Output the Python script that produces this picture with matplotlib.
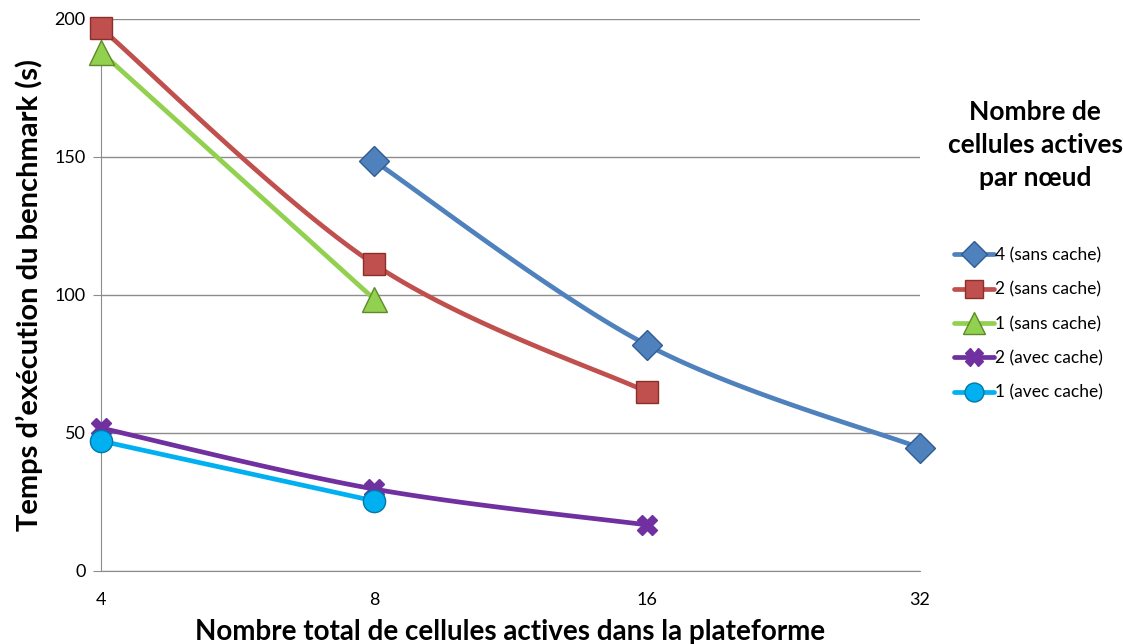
import numpy as np
import matplotlib.pyplot as plt
from matplotlib.lines import Line2D

plt.rcParams['font.family'] = ['Lato', 'DejaVu Sans']

# Nombre total de cellules actives (axe x, échelle log2)
cells_total = [4, 8, 16, 32]

# Temps d'exécution (s) par configuration
x_4_sans = [8, 16, 32]
t_4_sans = [148.6, 81.9, 44.6]
x_2_sans = [4, 8, 16]
t_2_sans = [196.7, 111.2, 64.9]
x_1_sans = [4, 8]
t_1_sans = [188.0, 98.6]
x_2_avec = [4, 8, 16]
t_2_avec = [51.8, 29.7, 16.7]
x_1_avec = [4, 8]
t_1_avec = [47.1, 25.4]

labels = ["4 (sans cache)", "2 (sans cache)", "1 (sans cache)",
          "2 (avec cache)", "1 (avec cache)"]


def smooth(xs, ys, n=40):
    # Courbe lissée type Catmull-Rom (comme les courbes lissées d'Excel)
    px = np.log2(np.asarray(xs, float))
    py = np.asarray(ys, float)
    if len(px) < 3:
        return px, py
    P = np.column_stack([px, py])
    P = np.vstack([P[0], P, P[-1]])
    out = []
    t = np.linspace(0, 1, n)[:, None]
    for i in range(1, len(P) - 2):
        p0, p1, p2, p3 = P[i - 1], P[i], P[i + 1], P[i + 2]
        c1 = p1 + (p2 - p0) / 6
        c2 = p2 - (p3 - p1) / 6
        seg = ((1 - t) ** 3) * p1 + 3 * ((1 - t) ** 2) * t * c1 \
            + 3 * (1 - t) * t ** 2 * c2 + t ** 3 * p2
        out.append(seg)
    seg = np.vstack(out)
    return seg[:, 0], seg[:, 1]


series = [
    (x_4_sans, t_4_sans, '#4F81BD', '#2F5C94', 'D', 15),
    (x_2_sans, t_2_sans, '#C0504D', '#8C2F2C', 's', 16),
    (x_1_sans, t_1_sans, '#92D050', '#5F8A2A', '^', 18),
    (x_2_avec, t_2_avec, '#7030A0', '#7030A0', 'X', 15),
    (x_1_avec, t_1_avec, '#00B0F0', '#0078A8', 'o', 16),
]

fig = plt.figure(figsize=(11.23, 6.44), dpi=100)
ax = fig.add_axes([0.0899, 0.1134, 0.7293, 0.8571])

for xs, ys, col, edge, mk, ms in series:
    sx, sy = smooth(xs, ys)
    ax.plot(sx, sy, color=col, lw=3.4, solid_capstyle='round', zorder=3,
            clip_on=False)
    ax.plot(np.log2(xs), ys, ls='none', marker=mk, ms=ms, mfc=col,
            mec=edge, mew=1.0, zorder=4, clip_on=False)

ax.set_xlim(2, 5)
ax.set_ylim(0, 200)
ax.set_xticks(np.log2(cells_total))
ax.set_xticklabels([str(v) for v in cells_total])
ax.set_yticks([0, 50, 100, 150, 200])
ax.grid(axis='y', color='#8C8C8C', lw=1.0)
ax.set_axisbelow(True)
for s in ['top', 'right']:
    ax.spines[s].set_visible(False)
ax.spines['left'].set_color('#8C8C8C')
ax.spines['bottom'].set_color('#8C8C8C')
ax.tick_params(axis='y', length=6, color='#8C8C8C', labelsize=13, pad=5)
ax.tick_params(axis='x', length=0, labelsize=13, pad=15)

ax.set_xlabel("Nombre total de cellules actives dans la plateforme",
              fontsize=20, fontweight='bold', labelpad=8)
ax.set_ylabel("Temps d’exécution du benchmark (s)",
              fontsize=21, fontweight='bold', labelpad=8)

fig.text(0.922, 0.775, "Nombre de\ncellules actives\npar nœud", ha='center',
         va='center', fontsize=19, fontweight='bold', linespacing=1.45)

handles = [Line2D([], [], color=c, lw=3.4, marker=m, ms=ms * 0.85, mfc=c,
                  mec=e, solid_capstyle='round')
           for _, _, c, e, m, ms in series]
fig.legend(handles, labels, loc='upper left', bbox_to_anchor=(0.843, 0.627),
           frameon=False, fontsize=12.5, handlelength=2.3, handletextpad=0.1,
           labelspacing=1.05, borderaxespad=0)

fig.savefig('out.png', dpi=100)
